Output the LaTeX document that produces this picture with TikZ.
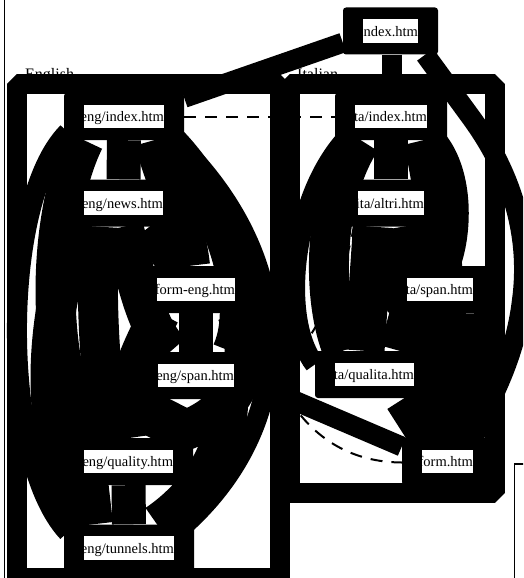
\documentclass[tikz,border=0pt]{standalone}
\usepackage{fontspec}
\setmainfont{Liberation Serif}
\begin{document}
\begin{tikzpicture}[x=1pt,y=-1pt,
  pg/.style={rectangle, fill=black, rounded corners=3pt, minimum height=47pt, inner sep=0pt},
  wb/.style={rectangle, fill=white, minimum height=23.5pt, inner sep=0pt},
  lbl/.style={anchor=base east, inner sep=0pt, font=\fontsize{14.5pt}{17pt}\selectfont},
  cltitle/.style={anchor=base west, inner sep=0pt, font=\fontsize{16pt}{19pt}\selectfont},
  cl/.style={draw=black, line width=20pt, line join=bevel},
  ed/.style={draw=black, line width=40pt},
  mid/.style={draw=black, line width=34pt},
  rim/.style={draw=black, line width=20pt},
  tr/.style={draw=black, line width=2pt, dash pattern=on 12pt off 9pt},
  frame/.style={draw=black, line width=1.5pt}]
\useasboundingbox (0,0) rectangle (523,578);
\clip (0,0) rectangle (523,578);

% outer frame lines
\draw[frame] (4.5,-5) -- (4.5,583);
\draw[frame] (514.5,583) -- (514.5,464) -- (528,464);

% cluster titles
\node[cltitle] (lab-en) at (25,79) {English};
\node[cltitle] (lab-it) at (297,79) {Italian};

% clusters
\draw[cl] (17,84) rectangle (280,578);
\draw[cl] (290,84) rectangle (495,493);

% page boxes
\node[pg, minimum width=95pt]  (idx)      at (390.5,31) {};
\node[pg, minimum width=120pt] (engidx)   at (124,116.5) {};
\node[pg, minimum width=119pt] (engnews)  at (123.5,203) {};
\node[pg, minimum width=118pt] (formeng)  at (196,289.5) {};
\node[pg, minimum width=116pt] (engspan)  at (196,375.5) {};
\node[pg, minimum width=129pt] (engqual)  at (128.5,461.5) {};
\node[pg, minimum width=130pt] (engtun)   at (129,548) {};
\node[pg, minimum width=112pt] (itaidx)   at (391,116.5) {};
\node[pg, minimum width=106pt] (itaaltri) at (391,203) {};
\node[pg, minimum width=106pt] (itaspan)  at (440,289.5) {};
\node[pg, minimum width=119pt] (itaqual)  at (374.5,374.5) {};
\node[pg, minimum width=91pt]  (form)     at (447.5,461.5) {};

% links from the home page
\draw[rim] ([yshift=12pt]idx.south west) -- ([yshift=-5pt]engidx.north east);
\draw[rim] ([xshift=1.5pt]idx.south) -- ([xshift=1pt]itaidx.north);
\draw[rim] ([xshift=-13pt]idx.south east) -- (470,116) .. controls (515,177) and (530,240) .. (522,300)
  .. controls (515,360) and (490,400) .. ([xshift=-20pt]form.north east);

% English pages
\draw[mid] (engidx.south) -- (engnews.north);
\draw[rim] ([xshift=-9pt]engidx.south east) .. controls (300,260) and (300,420) .. ([xshift=-9pt]engtun.north east);
\draw[rim] ([xshift=4pt,yshift=8pt]engidx.south west) .. controls (0,200) and (0,460) .. ([xshift=4pt,yshift=-8pt]engtun.north west);
\draw[ed] ([xshift=30pt]engidx.south) .. controls (165,180) and (185,220) .. ([xshift=-6pt]formeng.north);
\draw[ed] ([xshift=-40pt]engidx.south) .. controls (45,220) and (45,380) .. ([xshift=-38pt]engqual.north);
\draw[ed] ([xshift=-20pt]engidx.south east) .. controls (225,200) and (255,300) .. ([xshift=-22pt]engspan.north east);
\draw[ed] ([xshift=26pt]engnews.south) -- ([xshift=-16pt]formeng.north);
\draw[ed] ([xshift=0pt]engnews.south) .. controls (140,300) and (150,330) .. ([xshift=-26pt]engspan.north);
\draw[ed] ([xshift=-24pt]engnews.south) .. controls (95,300) and (100,380) .. ([xshift=-18pt]engqual.north);
\draw[ed] ([xshift=14pt]engnews.south west) .. controls (40,330) and (40,450) .. ([xshift=-42pt]engtun.north);
\draw[mid] (formeng.south) -- (engspan.north);
\draw[ed] ([xshift=-36pt]formeng.south) .. controls (125,380) and (125,400) .. ([xshift=2pt]engqual.north);
\draw[ed] ([xshift=-18pt]formeng.south east) .. controls (255,360) and (245,420) .. ([xshift=-34pt]engqual.north east);
\draw[ed] ([xshift=-26pt]engspan.south) -- ([xshift=22pt]engqual.north);
\draw[ed] ([xshift=-26pt]engspan.south east) .. controls (228,450) and (200,495) .. ([xshift=28pt]engtun.north);
\draw[mid] (engqual.south) -- (engtun.north);
\draw[ed] ([xshift=-40pt]engqual.south) -- ([xshift=-36pt]engtun.north);
\draw[rim] ([yshift=-8pt]engspan.east) -- ([yshift=15pt]form.west);

% Italian pages
\draw[mid] (itaidx.south) -- (itaaltri.north);
\draw[rim] ([xshift=10pt]itaidx.south west) .. controls (292,200) and (280,320) .. ([yshift=10pt]itaqual.west);
\draw[ed] ([xshift=26pt]itaidx.south west) .. controls (322,200) and (322,300) .. ([xshift=28pt]itaqual.north west);
\draw[rim] ([xshift=-10pt]itaidx.south east) .. controls (465,175) and (462,235) .. ([xshift=10pt]itaspan.north);
\draw[ed] ([xshift=-24pt]itaidx.south east) .. controls (438,200) and (452,330) .. (form.north);
\draw[ed] ([xshift=-18pt]itaaltri.south) -- ([xshift=-10pt]itaqual.north);
\draw[ed] ([xshift=-26pt]itaaltri.south east) -- ([xshift=-12pt]itaspan.north);
\draw[ed] ([xshift=12pt]itaaltri.south) .. controls (415,300) and (428,380) .. ([xshift=-12pt]form.north);
\draw[ed] ([xshift=-30pt]itaspan.south) -- ([xshift=25pt]itaqual.north);
\draw[ed] ([xshift=5pt]itaspan.south) -- ([xshift=5pt]form.north);
\draw[ed] ([xshift=-16pt]itaspan.south east) .. controls (478,360) and (476,400) .. ([xshift=-16pt]form.north east);
\draw[ed] ([xshift=-30pt]itaqual.south east) -- ([xshift=-18pt]form.north);

% translation links
\draw[tr] (engidx.east) -- (itaidx.west);
\draw[tr] ([yshift=-10pt]formeng.east) .. controls (270,400) and (320,462) .. ([yshift=-1pt]form.west);
\draw[tr] ([xshift=-5pt,yshift=-10pt]engspan.east) .. controls (300,380) and (345,280) .. ([xshift=16pt]itaaltri.south west);

% page labels
\node[wb, minimum width=55pt] (idx-w) at (idx) {};
\node[lbl] (idx-t) at ([yshift=-17pt]idx-w.north east) {index.htm};
\node[wb, minimum width=80pt] (engidx-w) at (engidx) {};
\node[lbl] (engidx-t) at ([yshift=-17pt]engidx-w.north east) {eng/index.htm};
\node[wb, minimum width=79pt] (engnews-w) at (engnews) {};
\node[lbl] (engnews-t) at ([yshift=-17pt]engnews-w.north east) {eng/news.htm};
\node[wb, minimum width=78pt] (formeng-w) at (formeng) {};
\node[lbl] (formeng-t) at ([yshift=-17pt]formeng-w.north east) {form-eng.htm};
\node[wb, minimum width=76pt] (engspan-w) at (engspan) {};
\node[lbl] (engspan-t) at ([yshift=-17pt]engspan-w.north east) {eng/span.htm};
\node[wb, minimum width=89pt] (engqual-w) at (engqual) {};
\node[lbl] (engqual-t) at ([yshift=-17pt]engqual-w.north east) {eng/quality.htm};
\node[wb, minimum width=90pt] (engtun-w) at (engtun) {};
\node[lbl] (engtun-t) at ([yshift=-17pt]engtun-w.north east) {eng/tunnels.htm};
\node[wb, minimum width=72pt] (itaidx-w) at (itaidx) {};
\node[lbl] (itaidx-t) at ([yshift=-17pt]itaidx-w.north east) {ita/index.htm};
\node[wb, minimum width=66pt] (itaaltri-w) at (itaaltri) {};
\node[lbl] (itaaltri-t) at ([yshift=-17pt]itaaltri-w.north east) {ita/altri.htm};
\node[wb, minimum width=66pt] (itaspan-w) at (itaspan) {};
\node[lbl] (itaspan-t) at ([yshift=-17pt]itaspan-w.north east) {ita/span.htm};
\node[wb, minimum width=79pt] (itaqual-w) at (itaqual) {};
\node[lbl] (itaqual-t) at ([yshift=-17pt]itaqual-w.north east) {ita/qualita.htm};
\node[wb, minimum width=51pt] (form-w) at (form) {};
\node[lbl] (form-t) at ([yshift=-17pt]form-w.north east) {form.htm};
\end{tikzpicture}
\end{document}
